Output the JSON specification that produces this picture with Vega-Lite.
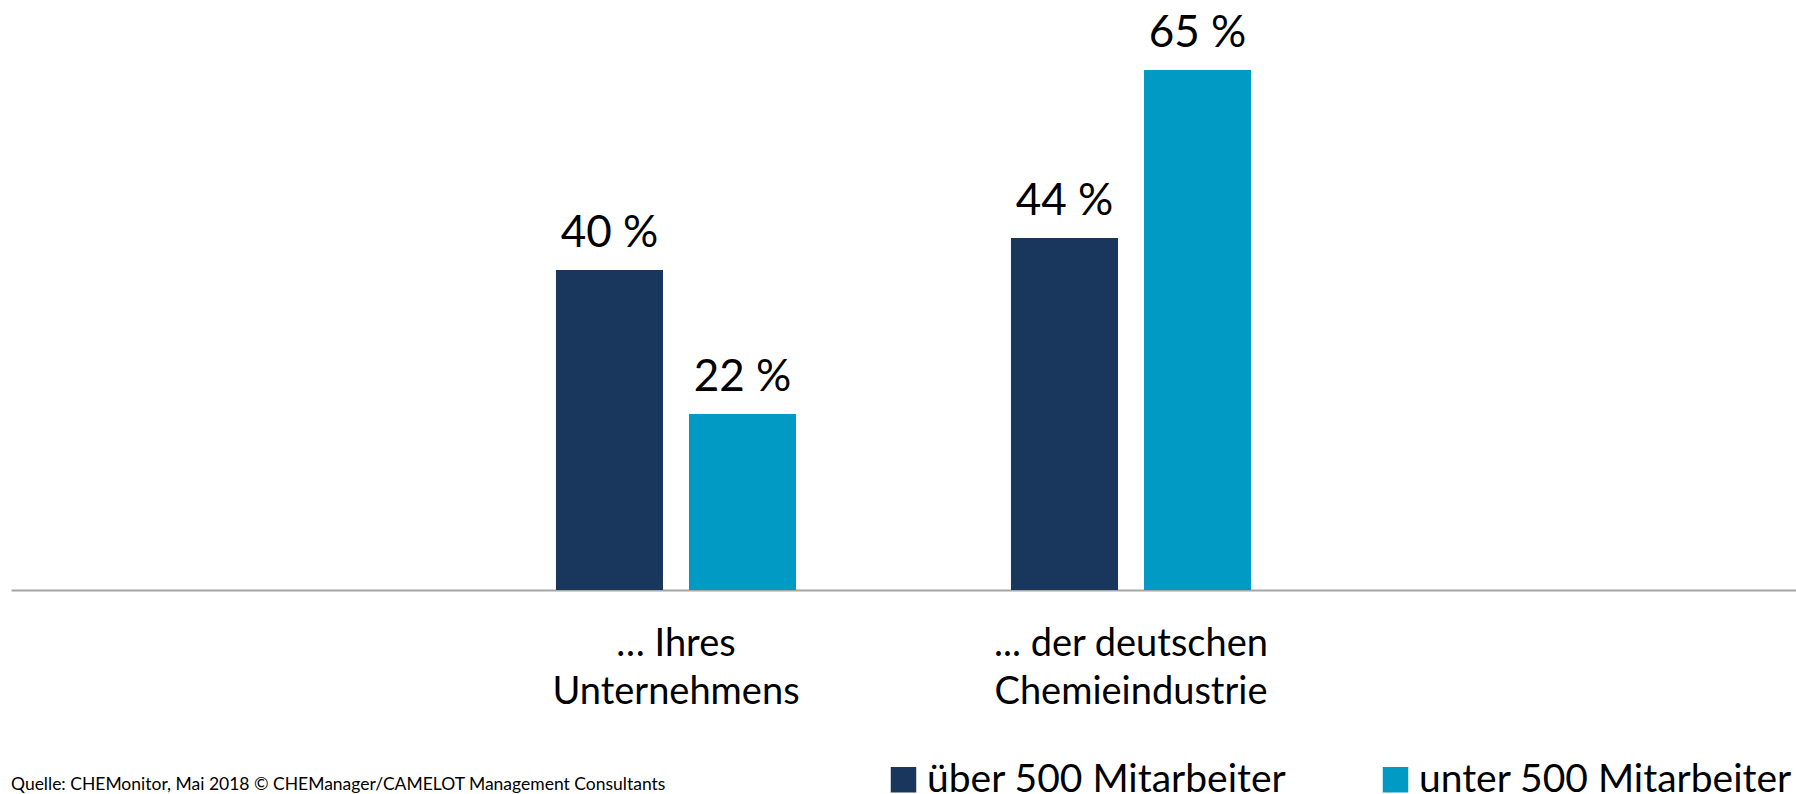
{
  "$schema": "https://vega.github.io/schema/vega-lite/v6.json",
  "width": 1785,
  "height": 590,
  "autosize": {"type": "none"},
  "padding": {"left": 11, "top": 0, "right": 0, "bottom": 204},
  "background": "white",
  "config": {
    "view": {"stroke": null},
    "font": "Lato",
    "text": {"font": "Lato"}
  },
  "title": {
    "text": "Quelle: CHEMonitor, Mai 2018  © CHEManager/CAMELOT Management Consultants",
    "orient": "bottom",
    "anchor": "start",
    "frame": "group",
    "font": "Lato",
    "fontSize": 17.5,
    "fontWeight": "normal",
    "color": "#000000",
    "baseline": "alphabetic",
    "offset": -10
  },
  "data": {
    "values": [
      {"gruppe": "… Ihres|Unternehmens", "serie": "über 500 Mitarbeiter", "wert": 40, "label": "40 %"},
      {"gruppe": "… Ihres|Unternehmens", "serie": "unter 500 Mitarbeiter", "wert": 22, "label": "22 %"},
      {"gruppe": "... der deutschen|Chemieindustrie", "serie": "über 500 Mitarbeiter", "wert": 44, "label": "44 %"},
      {"gruppe": "... der deutschen|Chemieindustrie", "serie": "unter 500 Mitarbeiter", "wert": 65, "label": "65 %"}
    ]
  },
  "encoding": {
    "x": {
      "field": "gruppe",
      "type": "nominal",
      "sort": null,
      "scale": {"paddingInner": 0, "paddingOuter": 0.9615},
      "axis": {
        "title": null,
        "labelAngle": 0,
        "labelExpr": "split(datum.label, '|')",
        "labelFont": "Lato",
        "labelFontSize": 38,
        "labelColor": "#000000",
        "labelLineHeight": 48,
        "labelBaseline": "top",
        "labelPadding": 35,
        "labelLimit": 0,
        "ticks": false,
        "domainColor": "#A6A6A6",
        "domainWidth": 2,
        "grid": false
      }
    },
    "xOffset": {
      "field": "serie",
      "type": "nominal",
      "sort": ["über 500 Mitarbeiter", "unter 500 Mitarbeiter"],
      "scale": {"paddingInner": 0.1955, "paddingOuter": 0.808}
    },
    "y": {
      "field": "wert",
      "type": "quantitative",
      "scale": {"domain": [0, 73.75], "nice": false},
      "axis": null
    }
  },
  "layer": [
    {
      "mark": {"type": "bar"},
      "encoding": {
        "color": {
          "field": "serie",
          "type": "nominal",
          "sort": ["über 500 Mitarbeiter", "unter 500 Mitarbeiter"],
          "scale": {"domain": ["über 500 Mitarbeiter", "unter 500 Mitarbeiter"], "range": ["#19365C", "#009AC5"]},
          "legend": {
            "title": null,
            "orient": "none",
            "direction": "horizontal",
            "legendX": 873,
            "legendY": 760,
            "padding": 0,
            "symbolType": "square",
            "symbolSize": 650,
            "symbolStrokeWidth": 0,
            "labelFont": "Lato",
            "labelFontSize": 39,
            "labelColor": "#000000",
            "labelOffset": 4,
            "labelLimit": 0,
            "columnPadding": 89
          }
        }
      }
    },
    {
      "mark": {"type": "text", "baseline": "alphabetic", "dy": -23, "font": "Lato", "fontSize": 44, "color": "#000000"},
      "encoding": {
        "text": {"field": "label"}
      }
    }
  ]
}
